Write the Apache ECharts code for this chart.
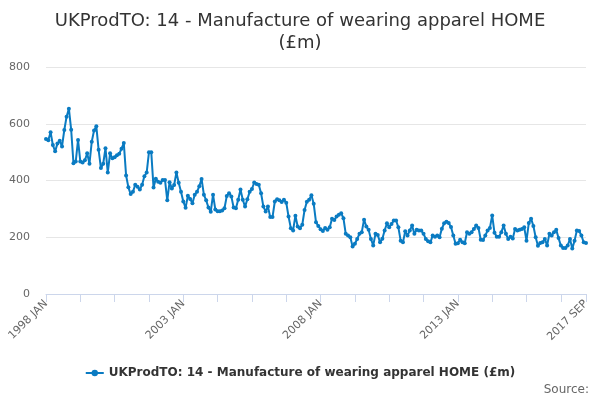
<!DOCTYPE html>
<html>
<head>
<meta charset="utf-8">
<script src="https://cdn.jsdelivr.net/npm/echarts@6/dist/echarts.min.js"></script>
<style>
html,body{margin:0;padding:0;background:#fff;}
#chart{width:600px;height:400px;}
</style>
</head>
<body>
<div id="chart"></div>
<script>
var years = [1998,1999,2000,2001,2002,2003,2004,2005,2006,2007,2008,2009,2010,2011,2012,2013,2014,2015,2016,2017];
var months = ['JAN','FEB','MAR','APR','MAY','JUN','JUL','AUG','SEP','OCT','NOV','DEC'];
var lastMonthIndex = 8; // 2017 SEP
var categories = [];
years.forEach(function (y, yi) {
  months.forEach(function (m, mi) {
    if (yi === years.length - 1 && mi > lastMonthIndex) return;
    categories.push(y + ' ' + m);
  });
});
var yTicks = [0, 200, 400, 600, 800];
var seriesName = 'UKProdTO: 14 - Manufacture of wearing apparel HOME (£m)';
var values = [
546,542,570,525,503,530,540,520,578,625,653,579,
461,467,543,467,463,471,496,459,537,576,591,508,
444,459,514,428,496,478,482,489,494,512,532,418,
376,352,360,385,378,368,385,415,428,500,500,375,
406,396,392,402,402,330,394,372,384,428,392,360,
326,304,346,335,320,350,360,380,405,350,330,305,
290,350,298,292,292,294,302,345,355,344,305,302,
332,368,332,308,334,360,370,393,388,385,355,308,
291,308,271,271,326,334,330,324,332,322,273,232,
224,276,238,232,244,296,325,332,348,318,253,240,
228,222,233,226,235,265,261,273,279,285,267,212,
206,200,167,177,194,212,218,262,238,226,194,171,
212,208,182,195,224,249,235,247,259,259,235,188,
182,221,206,224,241,212,226,224,224,212,194,186,
182,206,202,206,200,230,249,255,250,236,206,177,
179,191,182,179,218,212,218,229,241,233,191,190,
206,224,233,277,216,202,202,218,241,212,194,202,
196,229,224,226,229,235,188,250,265,240,200,170,
180,182,194,171,212,206,218,226,197,171,162,162,
171,194,160,188,224,222,206,182,180
];
var lastIdx = categories.length - 1;

var chart = echarts.init(document.getElementById('chart'));
chart.setOption({
  animation: false,
  backgroundColor: '#ffffff',
  textStyle: { fontFamily: 'DejaVu Sans' },
  title: {
    text: 'UKProdTO: 14 - Manufacture of wearing apparel HOME\n(£m)',
    left: 'center',
    top: 5,
    textStyle: { fontSize: 18, fontWeight: 'normal', color: '#333333', lineHeight: 22, fontFamily: 'DejaVu Sans', align: 'center' }
  },
  legend: {
    bottom: 16,
    left: 'center',
    itemWidth: 18,
    itemHeight: 8,
    textStyle: { fontSize: 12, fontWeight: 'bold', color: '#333333', fontFamily: 'DejaVu Sans' },
    data: [seriesName]
  },
  graphic: [{
    type: 'text',
    right: 11,
    bottom: 4,
    style: { text: 'Source:', fill: '#666666', fontSize: 12, fontFamily: 'DejaVu Sans' }
  }],
  grid: { left: 46, right: 14, top: 67, bottom: 106, containLabel: false },
  xAxis: {
    type: 'category',
    data: categories,
    boundaryGap: false,
    axisLine: { show: true, lineStyle: { color: '#ccd6eb', width: 1 } },
    axisTick: {
      show: true,
      length: 8,
      lineStyle: { color: '#ccd6eb' },
      interval: function (index) { return index % 15 === 0 || index === lastIdx; }
    },
    axisLabel: {
      rotate: 45,
      color: '#666666',
      fontSize: 11,
      margin: 8,
      interval: function (index) { return index % 60 === 0 || index === lastIdx; }
    },
    splitLine: { show: false }
  },
  yAxis: {
    type: 'value',
    min: yTicks[0],
    max: yTicks[yTicks.length - 1],
    interval: 200,
    axisLine: { show: false },
    axisTick: { show: false },
    axisLabel: { color: '#666666', fontSize: 11, margin: 16 },
    splitLine: { lineStyle: { color: '#e6e6e6' } }
  },
  series: [{
    name: seriesName,
    type: 'line',
    data: values,
    symbol: 'circle',
    symbolSize: 4,
    showAllSymbol: true,
    lineStyle: { color: '#0a7bc2', width: 2 },
    itemStyle: { color: '#0a7bc2' }
  }]
});
</script>
</body>
</html>
